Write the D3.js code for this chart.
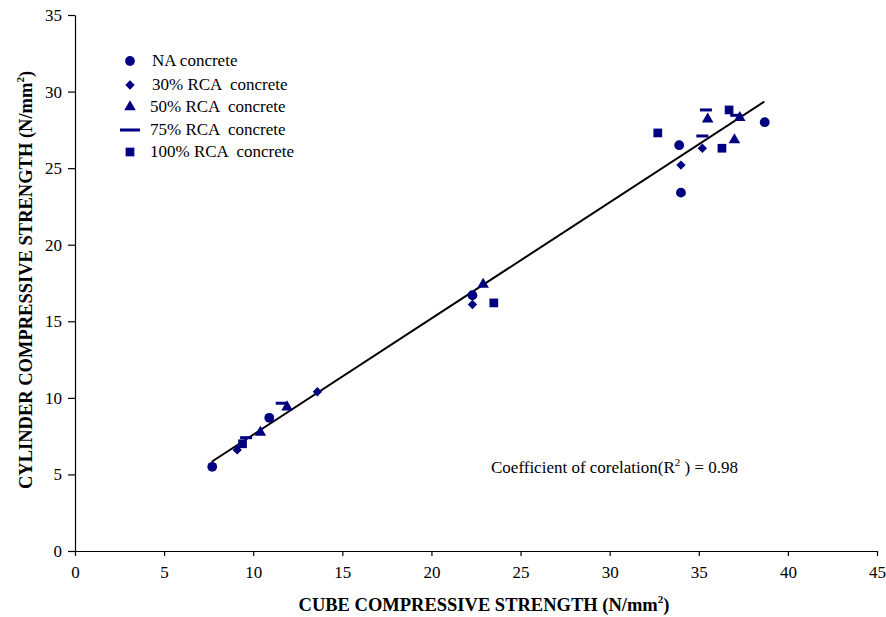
<!DOCTYPE html>
<html><head><meta charset="utf-8">
<script src="https://cdn.jsdelivr.net/npm/d3@7"></script>
<style>body{margin:0;background:#fff}svg{display:block}text{font-family:"Liberation Serif","Times New Roman",serif;white-space:pre}</style>
</head><body>
<svg id="c" width="886" height="617"></svg>
<script>
const xTicks = [0,5,10,15,20,25,30,35,40,45];
const yTicks = [0,5,10,15,20,25,30,35];
const naX = [7.7, 10.9, 22.3, 33.9, 34.0, 38.7];
const naY = [5.5, 8.7, 16.7, 26.5, 23.4, 28.0];
const rca30X = [9.1, 13.6, 22.3, 35.2, 34.0];
const rca30Y = [6.6, 10.4, 16.1, 26.3, 25.2];
const rca50X = [10.4, 11.9, 22.9, 35.5, 37.3, 37.0];
const rca50Y = [7.75, 9.4, 17.4, 28.2, 28.3, 26.85];
const rca75X = [9.6, 11.6, 35.2, 35.4, 37.1];
const rca75Y = [7.4, 9.65, 27.1, 28.8, 28.45];
const rca100X = [9.4, 23.5, 32.7, 36.3, 36.7];
const rca100Y = [7.0, 16.2, 27.3, 26.3, 28.8];
const trendX = [7.67, 38.68];
const trendY = [5.83, 29.35];
const seriesNames = ["NA concrete","30% RCA  concrete","50% RCA  concrete","75% RCA  concrete","100% RCA  concrete"];

const svg = d3.select("#c");
const x = d3.scaleLinear().domain([0,45]).range([75,877]);
const y = d3.scaleLinear().domain([0,35]).range([551,15]);
const navy = "#000080";

// axes
const xa = svg.append("g").attr("transform","translate(0,551)")
  .call(d3.axisBottom(x).tickValues(xTicks).tickSize(5).tickSizeOuter(0).tickPadding(8));
const ya = svg.append("g").attr("transform","translate(75,0)")
  .call(d3.axisLeft(y).tickValues(yTicks).tickSize(7).tickSizeOuter(0).tickPadding(6));
[xa,ya].forEach(a=>{
  a.selectAll("path,line").attr("stroke","#000").attr("stroke-width",1.2);
  a.selectAll("text").attr("font-size",17).attr("fill","#000").attr("font-family","Liberation Serif");
});
xa.selectAll("text").attr("dy","0.85em");

// trendline
svg.append("line").attr("x1",x(trendX[0])).attr("y1",y(trendY[0]))
  .attr("x2",x(trendX[1])).attr("y2",y(trendY[1]))
  .attr("stroke","#000").attr("stroke-width",2);

const sym = {
  circle: d3.symbol().type(d3.symbolCircle).size(75),
  diamond: d3.symbol().type(d3.symbolSquare).size(44),
  triangle: d3.symbol().type(d3.symbolTriangle).size(58),
  square: d3.symbol().type(d3.symbolSquare).size(76)
};
function drawMark(g, kind, cx, cy){
  if(kind==="dash"){
    g.append("rect").attr("x",cx-6).attr("y",cy-1.5).attr("width",12).attr("height",3).attr("fill",navy);
  } else {
    g.append("path").attr("d",sym[kind]()).attr("fill",navy)
      .attr("transform",`translate(${cx},${cy})`+(kind==="diamond"?" rotate(45)":""));
  }
}
const series = [
  {k:"circle", xs:naX, ys:naY},
  {k:"diamond", xs:rca30X, ys:rca30Y},
  {k:"triangle", xs:rca50X, ys:rca50Y},
  {k:"dash", xs:rca75X, ys:rca75Y},
  {k:"square", xs:rca100X, ys:rca100Y}
];
const pg = svg.append("g");
series.forEach(s=>{
  s.xs.forEach((v,i)=>drawMark(pg, s.k, x(v), y(s.ys[i])));
});

// legend
const lg = svg.append("g");
const legY = [61, 85, 107, 130, 152];
const legTX = [152, 152, 150, 150, 150];
series.forEach((s,i)=>{
  if(s.k==="dash"){
    lg.append("rect").attr("x",120).attr("y",legY[i]-1.5).attr("width",20).attr("height",3).attr("fill",navy);
  } else drawMark(lg, s.k, 130, legY[i]);
  lg.append("text").attr("x",legTX[i]).attr("y",legY[i]+4.5).attr("font-size",17).text(seriesNames[i]);
});

// axis titles
const xt = svg.append("text").attr("x",484).attr("y",611).attr("text-anchor","middle")
  .attr("font-size",18.5).attr("font-weight","bold");
xt.append("tspan").text("CUBE COMPRESSIVE STRENGTH (N/mm");
xt.append("tspan").attr("font-size",11).attr("dy",-8).text("2");
xt.append("tspan").attr("dy",8).text(")");

const yt = svg.append("text").attr("transform","translate(32,280) rotate(-90)").attr("text-anchor","middle")
  .attr("font-size",18.5).attr("font-weight","bold");
yt.append("tspan").text("CYLINDER COMPRESSIVE STRENGTH (N/mm");
yt.append("tspan").attr("font-size",11).attr("dy",-8).text("2");
yt.append("tspan").attr("dy",8).text(")");

// annotation
const an = svg.append("text").attr("x",491).attr("y",473).attr("font-size",17);
an.append("tspan").text("Coefficient of corelation(R");
an.append("tspan").attr("font-size",11).attr("dy",-7).text("2");
an.append("tspan").attr("dy",7).text(" ) = 0.98");
</script>
</body></html>
